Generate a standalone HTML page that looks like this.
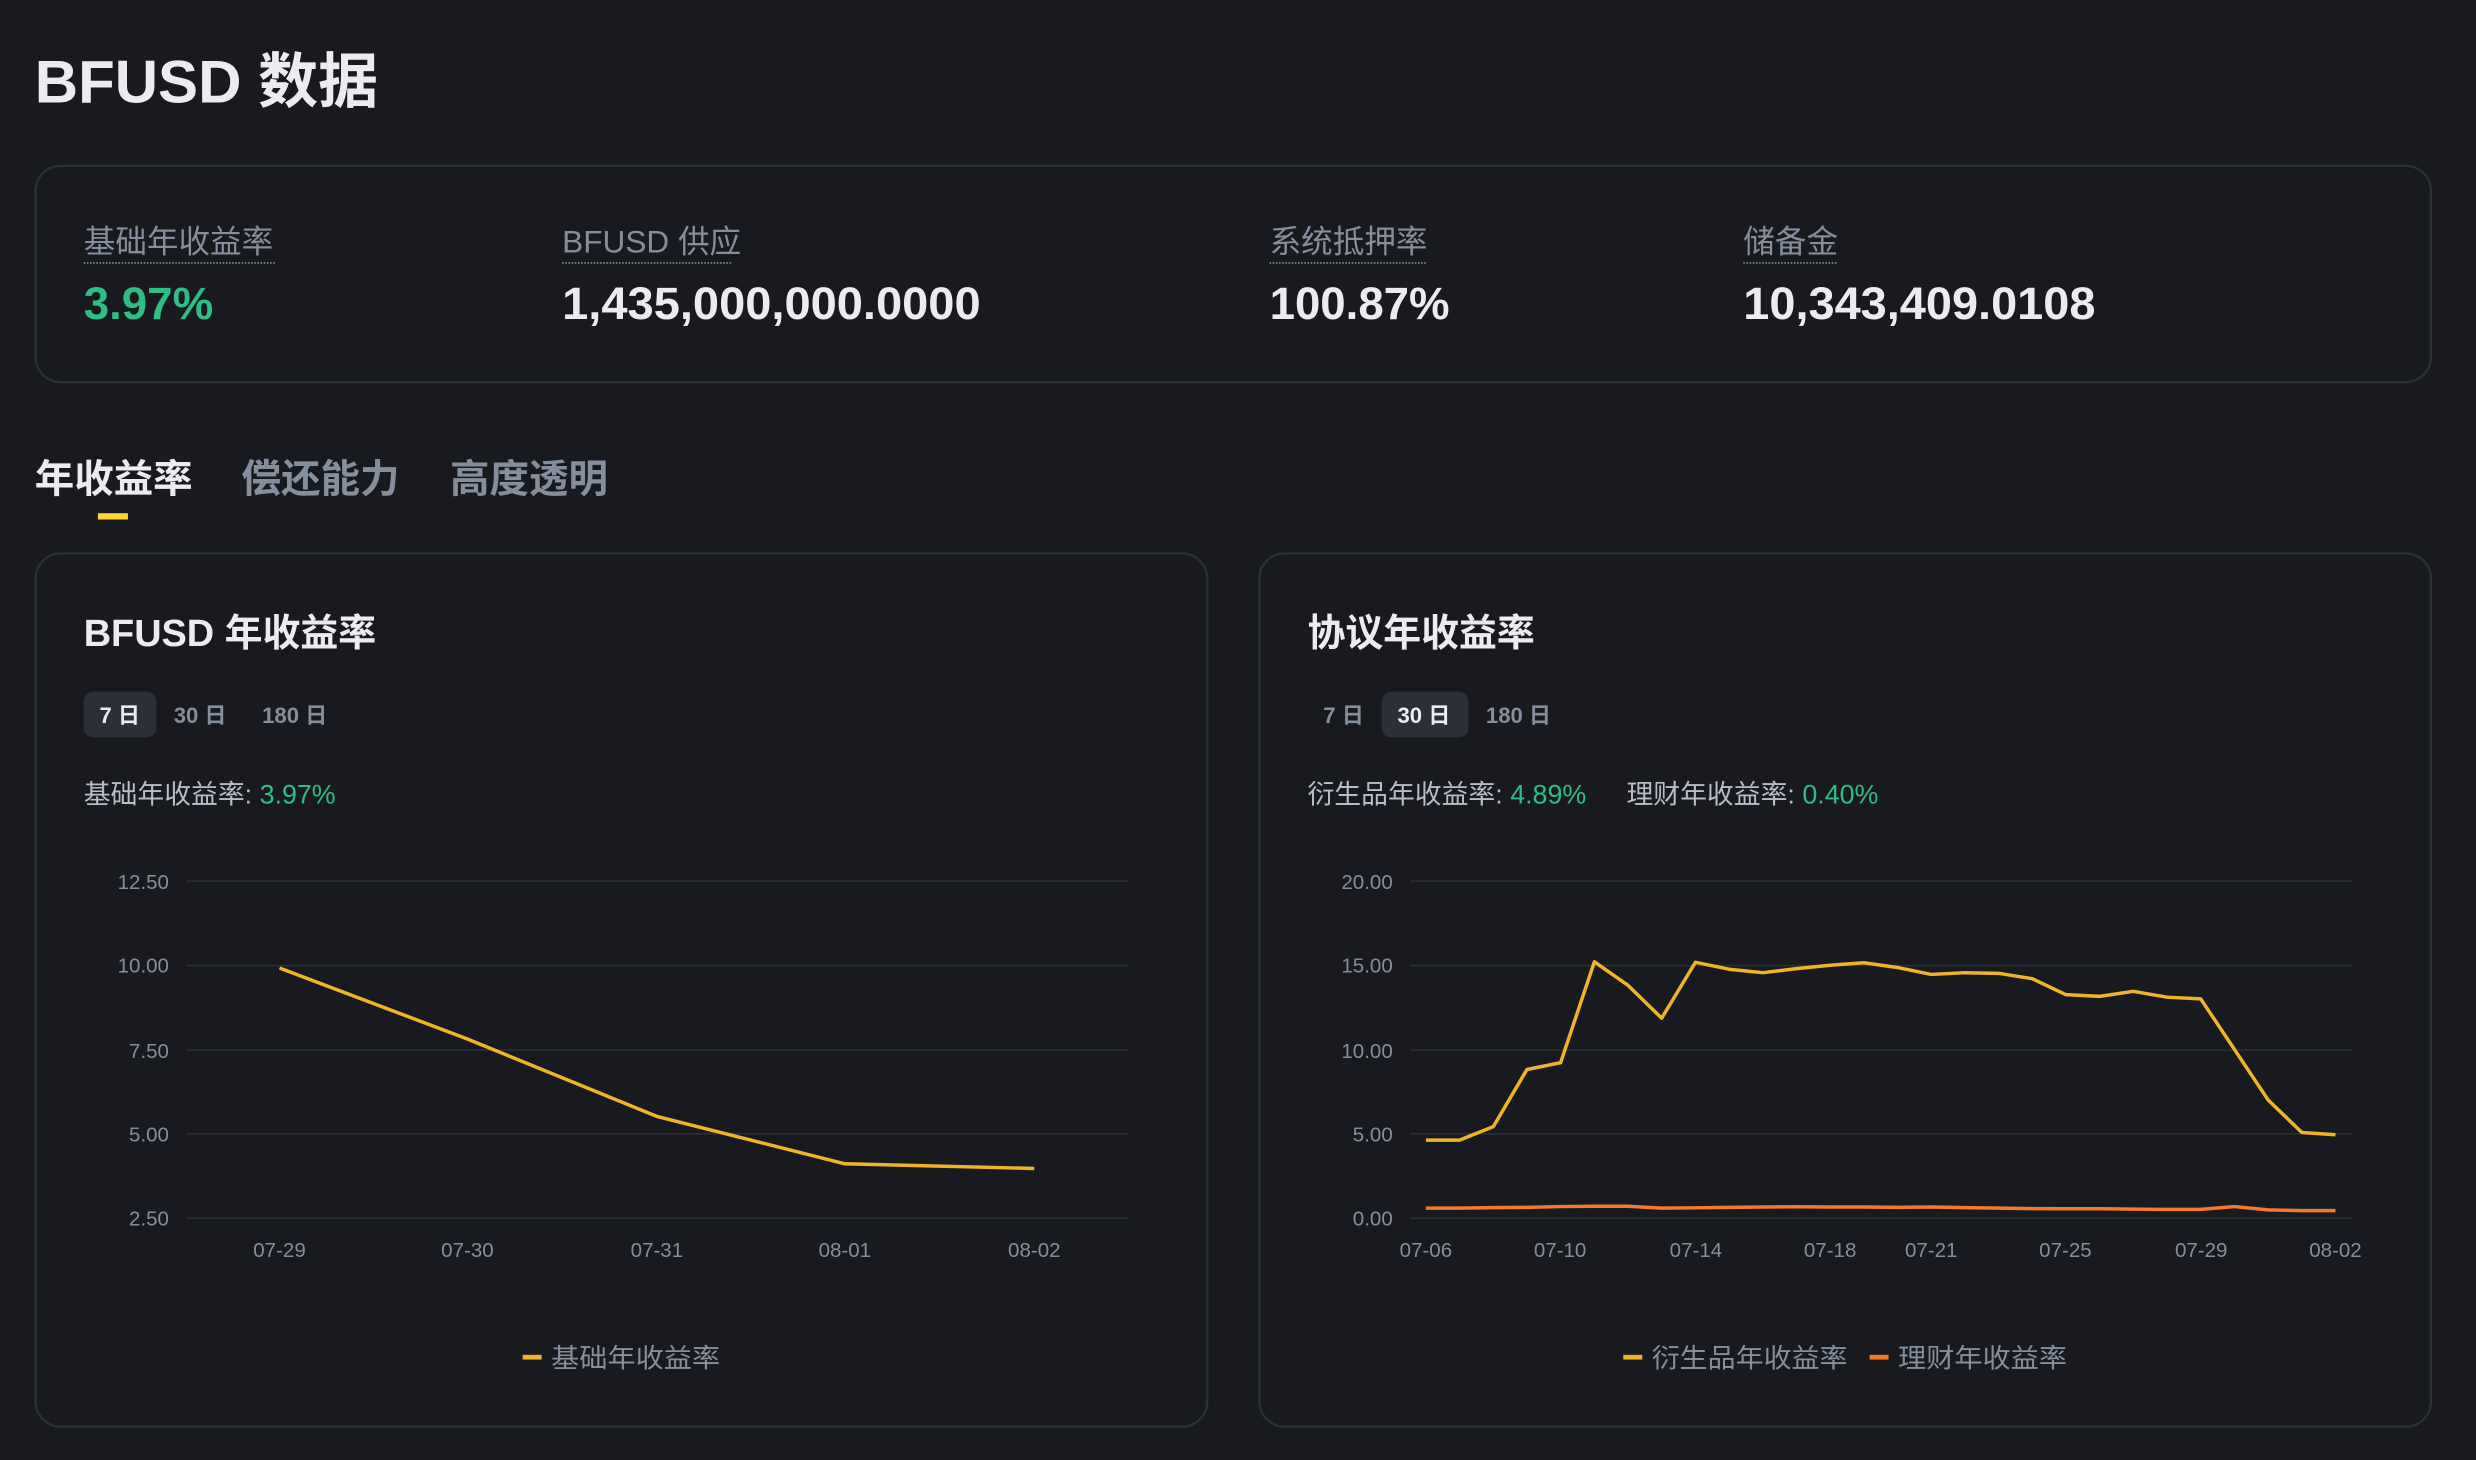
<!DOCTYPE html>
<html><head><meta charset="utf-8"><style>
html,body{margin:0;padding:0;background:#181a1f;overflow:hidden}
svg{display:block}
text{font-family:"Liberation Sans","Noto Sans CJK SC",sans-serif}
</style></head><body>
<svg width="2476" height="1460" viewBox="0 0 1568 924.6" xmlns="http://www.w3.org/2000/svg">
<rect x="0" y="0" width="1568" height="925" fill="#181a1f"/>
<text x="22" y="65" font-size="38" font-weight="bold" fill="#eaecef">BFUSD 数据</text>
<rect x="22.5" y="105" width="1517" height="137" rx="16" fill="#181a1f" stroke="#2b2f36" stroke-width="1.5"/>
<g font-size="20" fill="#848e9c">
<text x="53" y="160">基础年收益率</text>
<text x="356" y="160">BFUSD 供应</text>
<text x="804" y="160">系统抵押率</text>
<text x="1104" y="160">储备金</text>
</g>
<g stroke="#848e9c" stroke-width="1" stroke-dasharray="1 1">
<line x1="53" y1="166.5" x2="174" y2="166.5"/>
<line x1="356" y1="166.5" x2="464" y2="166.5"/>
<line x1="804" y1="166.5" x2="904" y2="166.5"/>
<line x1="1104" y1="166.5" x2="1164" y2="166.5"/>
</g>
<g font-size="29" font-weight="bold">
<text x="53" y="202" fill="#2ebd85" textLength="82" lengthAdjust="spacingAndGlyphs">3.97%</text>
<text x="356" y="202" fill="#eaecef" textLength="265" lengthAdjust="spacingAndGlyphs">1,435,000,000.0000</text>
<text x="804" y="202" fill="#eaecef" textLength="114" lengthAdjust="spacingAndGlyphs">100.87%</text>
<text x="1104" y="202" fill="#eaecef" textLength="223" lengthAdjust="spacingAndGlyphs">10,343,409.0108</text>
</g>
<g font-size="25" font-weight="bold">
<text x="22" y="312" fill="#eaecef">年收益率</text>
<text x="153" y="312" fill="#848e9c">偿还能力</text>
<text x="285" y="312" fill="#848e9c">高度透明</text>
</g>
<rect x="62" y="325" width="19" height="4" fill="#fcd535"/>
<rect x="22.5" y="350.5" width="742" height="553" rx="16" fill="#181a1f" stroke="#2b2f36" stroke-width="1.5"/>
<rect x="797.5" y="350.5" width="742" height="553" rx="16" fill="#181a1f" stroke="#2b2f36" stroke-width="1.5"/>
<g font-size="24" font-weight="bold" fill="#eaecef">
<text x="53" y="409">BFUSD 年收益率</text>
<text x="828" y="409">协议年收益率</text>
</g>
<rect x="53" y="438" width="46" height="29" rx="6" fill="#2b2f36"/>
<rect x="875" y="438" width="55" height="29" rx="6" fill="#2b2f36"/>
<g font-size="14" font-weight="bold">
<text x="63" y="458" fill="#eaecef">7 日</text>
<text x="110" y="458" fill="#848e9c">30 日</text>
<text x="166" y="458" fill="#848e9c">180 日</text>
<text x="838" y="458" fill="#848e9c">7 日</text>
<text x="885" y="458" fill="#eaecef">30 日</text>
<text x="941" y="458" fill="#848e9c">180 日</text>
</g>
<g font-size="17">
<text x="53" y="509" fill="#b7bdc6">基础年收益率: <tspan fill="#2ebd85">3.97%</tspan></text>
<text x="828" y="509" fill="#b7bdc6">衍生品年收益率: <tspan fill="#2ebd85">4.89%</tspan><tspan x="1030">理财年收益率: </tspan><tspan fill="#2ebd85">0.40%</tspan></text>
</g>
<g stroke="#2b2f36" stroke-width="1">
<line x1="118" y1="558" x2="714" y2="558"/><line x1="118" y1="611.5" x2="714" y2="611.5"/><line x1="118" y1="665" x2="714" y2="665"/><line x1="118" y1="718" x2="714" y2="718"/><line x1="118" y1="771.5" x2="714" y2="771.5"/>
<line x1="893" y1="558" x2="1490" y2="558"/><line x1="893" y1="611.5" x2="1490" y2="611.5"/><line x1="893" y1="665" x2="1490" y2="665"/><line x1="893" y1="718" x2="1490" y2="718"/><line x1="893" y1="771.5" x2="1490" y2="771.5"/>
</g>
<g font-size="13" fill="#848e9c" text-anchor="end">
<text x="107" y="563">12.50</text><text x="107" y="616">10.00</text><text x="107" y="670">7.50</text><text x="107" y="723">5.00</text><text x="107" y="776">2.50</text>
<text x="882" y="563">20.00</text><text x="882" y="616">15.00</text><text x="882" y="670">10.00</text><text x="882" y="723">5.00</text><text x="882" y="776">0.00</text>
</g>
<g font-size="13" fill="#848e9c" text-anchor="middle">
<text x="177" y="796">07-29</text><text x="296" y="796">07-30</text><text x="416" y="796">07-31</text><text x="535" y="796">08-01</text><text x="655" y="796">08-02</text>
<text x="903" y="796">07-06</text><text x="988" y="796">07-10</text><text x="1074" y="796">07-14</text><text x="1159" y="796">07-18</text><text x="1223" y="796">07-21</text><text x="1308" y="796">07-25</text><text x="1394" y="796">07-29</text><text x="1479" y="796">08-02</text>
</g>
<polyline fill="none" stroke="#f0b429" stroke-width="2.2" stroke-linejoin="round" points="177,613 296,658 416,707 535,737 655,740"/>
<polyline fill="none" stroke="#f0b429" stroke-width="2.2" stroke-linejoin="round" points="903,722 924.3,722 945.7,713.5 967,677.3 988.3,673 1009.7,609.1 1031,624 1052.3,644.8 1073.7,609.4 1095,613.8 1116.3,616 1137.7,613.4 1159,611.3 1180.3,609.7 1201.7,612.7 1223,617.1 1244.3,616 1265.7,616.4 1287,619.8 1308.3,629.9 1329.7,631 1351,627.8 1372.3,631.5 1393.7,632.6 1415,664.5 1436.3,696.5 1457.7,717.2 1479,718.6"/>
<polyline fill="none" stroke="#f7782b" stroke-width="2.2" stroke-linejoin="round" points="903,765.1 924.3,765.1 945.7,764.8 967,764.6 988.3,764.1 1009.7,763.9 1031,763.9 1052.3,765.1 1073.7,764.9 1095,764.6 1116.3,764.4 1137.7,764.2 1159,764.4 1180.3,764.4 1201.7,764.6 1223,764.4 1244.3,764.8 1265.7,765.1 1287,765.4 1308.3,765.5 1329.7,765.5 1351,765.7 1372.3,765.9 1393.7,765.9 1415,764.1 1436.3,766.2 1457.7,766.7 1479,766.7"/>
<rect x="331" y="858" width="12" height="3" fill="#f0b429"/>
<text x="349" y="866" font-size="17" fill="#848e9c" textLength="107" lengthAdjust="spacingAndGlyphs">基础年收益率</text>
<rect x="1028" y="858" width="12" height="3" fill="#f0b429"/>
<text x="1046" y="866" font-size="17" fill="#848e9c" textLength="124" lengthAdjust="spacingAndGlyphs">衍生品年收益率</text>
<rect x="1184" y="858" width="12" height="3" fill="#f7782b"/>
<text x="1202" y="866" font-size="17" fill="#848e9c" textLength="107" lengthAdjust="spacingAndGlyphs">理财年收益率</text>
</svg>
</body></html>
